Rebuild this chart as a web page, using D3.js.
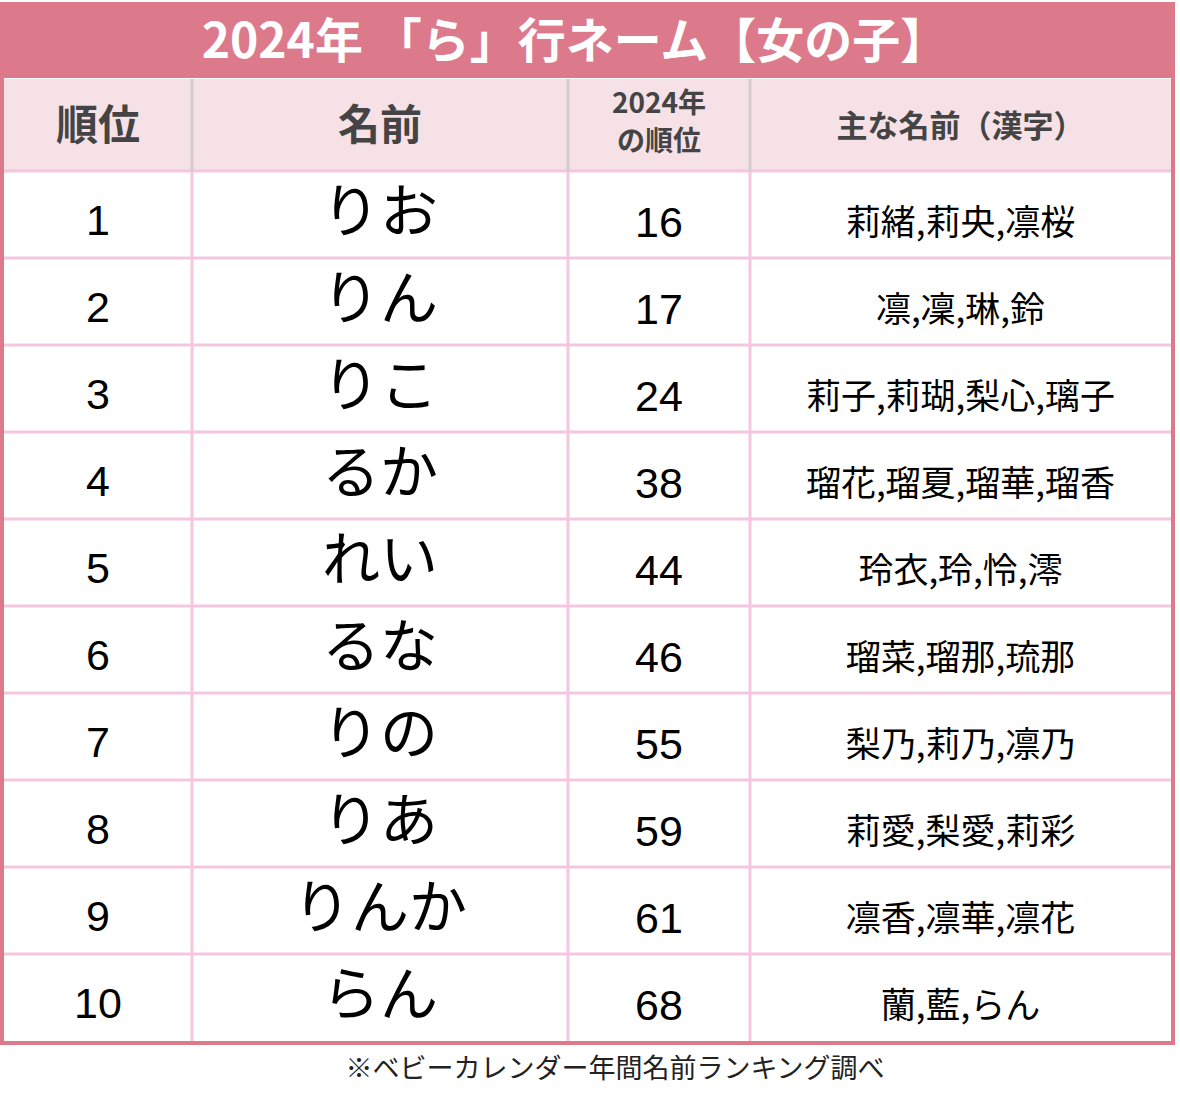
<!DOCTYPE html>
<html lang="ja">
<head>
<meta charset="UTF-8">
<style>
  body { margin: 0; background: #fff; }
  svg { display: block; font-family: "Noto Sans CJK JP", sans-serif; }
</style>
</head>
<body>
<script src="https://d3js.org/d3.v7.min.js"></script>
<script>
'use strict';

const title = '2024年 「ら」行ネーム【女の子】';
const headers = ['順位', '名前', '2024年\nの順位', '主な名前（漢字）'];
const ranks = [1, 2, 3, 4, 5, 6, 7, 8, 9, 10];
const names = ['りお', 'りん', 'りこ', 'るか', 'れい', 'るな', 'りの', 'りあ', 'りんか', 'らん'];
const ranks2024 = [16, 17, 24, 38, 44, 46, 55, 59, 61, 68];
const kanji = ['莉緒,莉央,凛桜', '凛,凜,琳,鈴', '莉子,莉瑚,梨心,璃子', '瑠花,瑠夏,瑠華,瑠香',
  '玲衣,玲,怜,澪', '瑠菜,瑠那,琉那', '梨乃,莉乃,凛乃', '莉愛,梨愛,莉彩', '凛香,凛華,凛花', '蘭,藍,らん'];
const note = '※ベビーカレンダー年間名前ランキング調べ';

const colEdges = [4, 192, 568, 750, 1171];
const pink = '#dc7a8c';

const svg = d3.select('body').append('svg').attr('width', 1180).attr('height', 1104);

// title bar
svg.append('rect').attr('x', 0).attr('y', 2).attr('width', 1175).attr('height', 1043).attr('fill', pink);
svg.append('rect').attr('x', 4).attr('y', 78).attr('width', 1167).attr('height', 963).attr('fill', '#fff');
svg.append('text').attr('x', 575).attr('y', 58).attr('text-anchor', 'middle')
  .attr('font-size', 48).attr('font-weight', 'bold').attr('fill', '#fff').text(title);

// header
const hy0 = 79, hy1 = 171;
svg.append('rect').attr('x', 4).attr('y', hy0).attr('width', 1167).attr('height', hy1 - hy0).attr('fill', '#f5e1e6');

const rowY = d3.scaleBand().domain(ranks).range([hy1, 1041]);

headers.forEach((h, i) => {
  const cx = (colEdges[i] + colEdges[i + 1]) / 2;
  const lines = h.split('\n');
  const t = svg.append('text').attr('text-anchor', 'middle').attr('fill', '#444').attr('font-weight', 'bold');
  if (lines.length === 1) {
    t.attr('x', cx).attr('y', i === 3 ? 137 : 140).attr('font-size', i === 3 ? 31 : 42).text(h);
  } else {
    t.attr('font-size', 28);
    lines.forEach((l, j) => t.append('tspan').attr('x', cx).attr('y', 113 + j * 38).text(l));
  }
});

// grid
const bandH = rowY.bandwidth();
ranks.forEach(r => {
  svg.append('line').attr('x1', 4).attr('x2', 1171).attr('y1', rowY(r)).attr('y2', rowY(r))
    .attr('stroke', '#f5c6e0').attr('stroke-width', 3);
});
colEdges.slice(1, 4).forEach(x => {
  svg.append('line').attr('x1', x).attr('x2', x).attr('y1', hy0).attr('y2', hy1)
    .attr('stroke', '#d6cccc').attr('stroke-width', 3);
  svg.append('line').attr('x1', x).attr('x2', x).attr('y1', hy1).attr('y2', 1041)
    .attr('stroke', '#f5c6e0').attr('stroke-width', 3);
});

const rows = svg.selectAll('g.row').data(ranks).enter().append('g')
  .attr('transform', d => `translate(0,${rowY(d)})`);
const cx = i => (colEdges[i] + colEdges[i + 1]) / 2;

rows.append('text').attr('x', cx(0)).attr('y', bandH * 0.74).attr('text-anchor', 'middle')
  .attr('font-size', 43).attr('font-family', '"Liberation Sans", sans-serif').text(d => d);
rows.append('text').attr('x', cx(1)).attr('y', bandH * 0.7).attr('text-anchor', 'middle')
  .attr('font-size', 58).text((d, i) => names[i]);
rows.append('text').attr('x', cx(2)).attr('y', bandH * 0.76).attr('text-anchor', 'middle')
  .attr('font-size', 43).attr('font-family', '"Liberation Sans", sans-serif').text((d, i) => ranks2024[i]);
rows.append('text').attr('x', cx(3)).attr('y', bandH * 0.74).attr('text-anchor', 'middle')
  .attr('font-size', 35).text((d, i) => kanji[i]);

svg.append('text').attr('x', 615).attr('y', 1078).attr('text-anchor', 'middle')
  .attr('font-size', 27).attr('fill', '#222').text(note);
</script>
</body>
</html>
